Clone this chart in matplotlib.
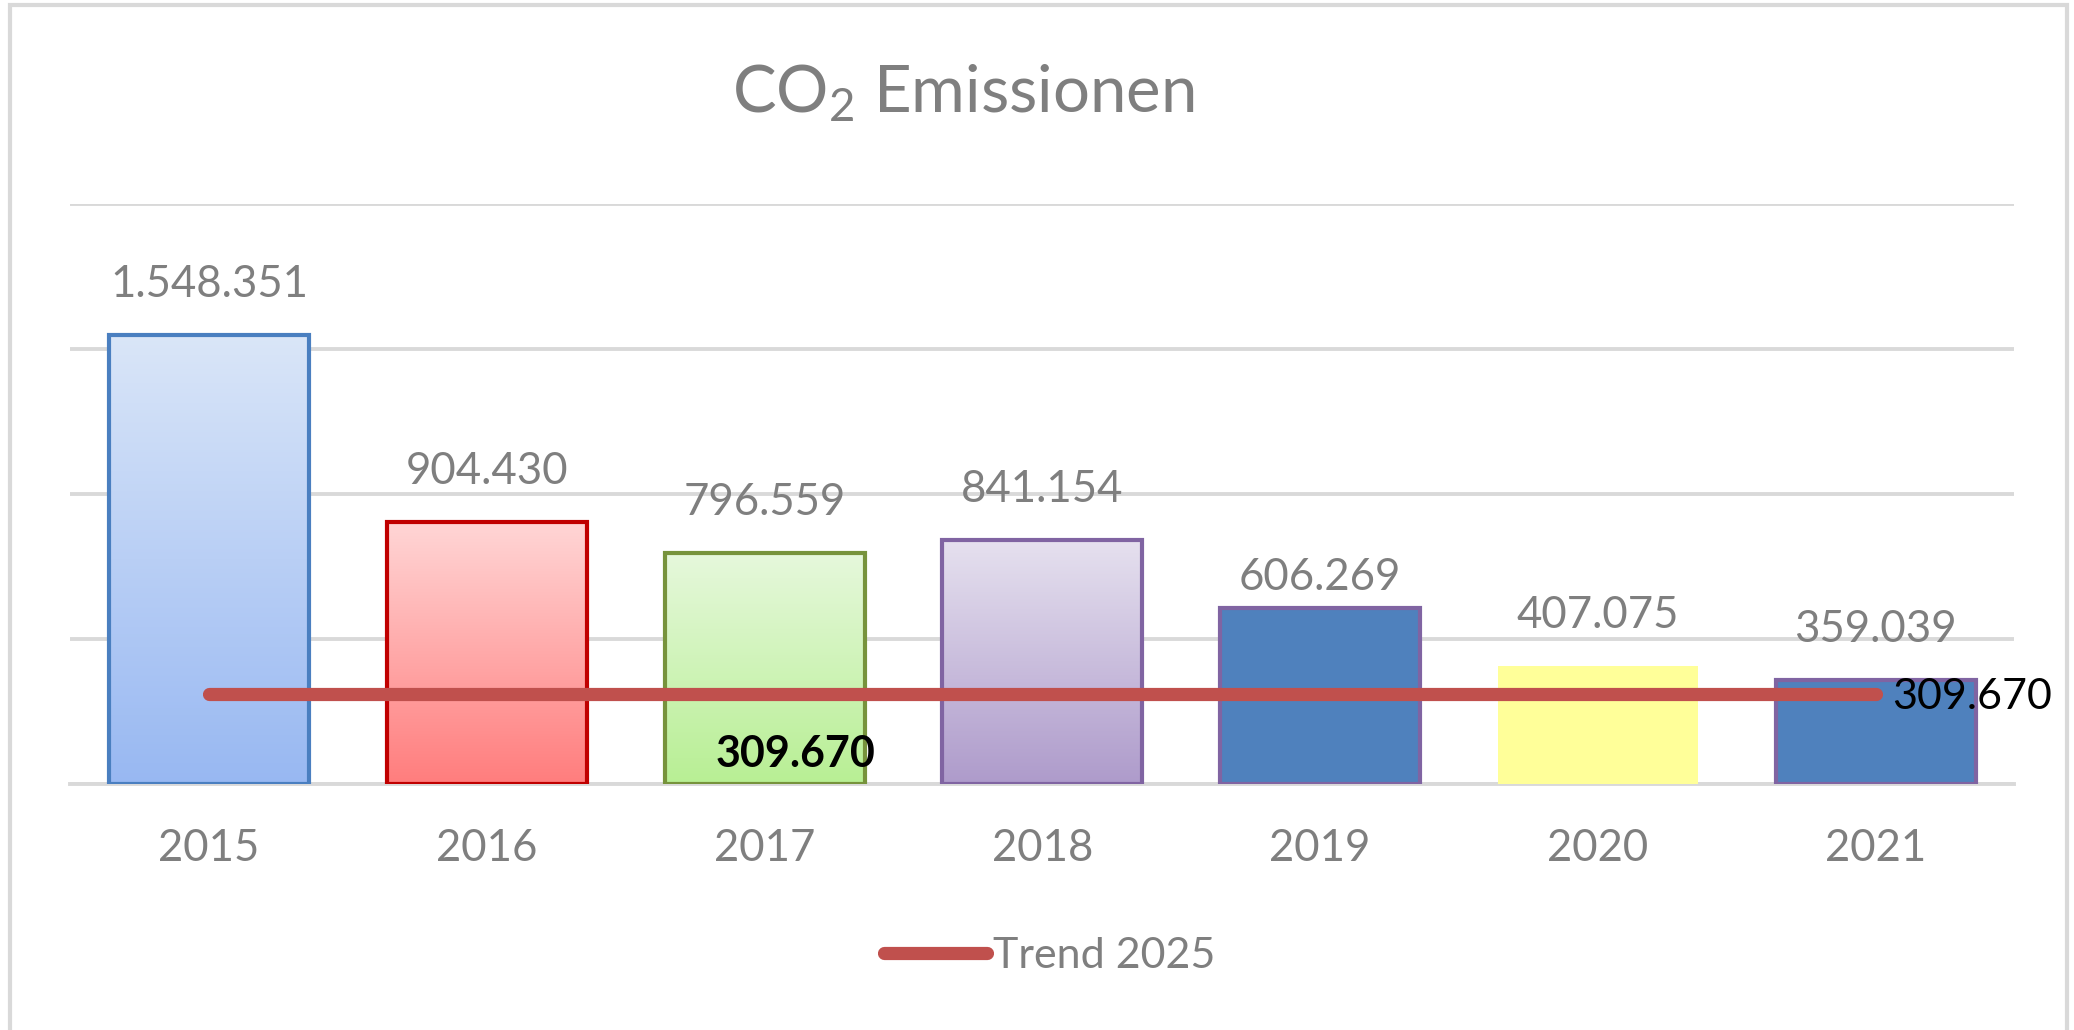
import numpy as np
import matplotlib.pyplot as plt
from matplotlib.colors import LinearSegmentedColormap
from matplotlib.patches import Rectangle

plt.rcParams["font.family"] = ["Lato", "DejaVu Sans"]
plt.rcParams["mathtext.fontset"] = "custom"
plt.rcParams["mathtext.rm"] = "Lato"
plt.rcParams["mathtext.it"] = "Lato"

# data
years = ["2015", "2016", "2017", "2018", "2019", "2020", "2021"]
emissions = [1548351, 904430, 796559, 841154, 606269, 407075, 359039]
emission_labels = ["1.548.351", "904.430", "796.559", "841.154", "606.269", "407.075", "359.039"]
trend = [309670, 309670, 309670, 309670, 309670, 309670, 309670]
trend_label = "309.670"

# styles per bar: (top colour, bottom colour) or a plain colour, plus edge colour
fill_top = ["#dae6f8", "#ffd6d6", "#e6f8dc", "#e6e1ef", None, None, None]
fill_bottom = ["#98b8f2", "#ff7d7d", "#b8ef94", "#ae9bcb", None, None, None]
fill_plain = [None, None, None, None, "#4f81bd", "#ffff99", "#4f81bd"]
edge_colors = ["#4a7fc0", "#c00000", "#77933c", "#8064a2", "#8064a2", "none", "#8064a2"]
label_offsets = [36, 36, 36, 36, 22, 36, 36]

GRAY = "#7f7f7f"
GRID = "#d9d9d9"
TREND = "#c0504d"

fig = plt.figure(figsize=(20.74, 10.30), dpi=100)
ax = fig.add_axes([0.0338, 0.2388, 0.9375, 0.5635])

x = np.arange(len(years))
bars = ax.bar(x, emissions, width=0.72, zorder=3, linewidth=3)

for i, b in enumerate(bars):
    b.set_edgecolor(edge_colors[i])
    if fill_plain[i] is not None:
        b.set_facecolor(fill_plain[i])
    else:
        b.set_facecolor("none")
        cmap = LinearSegmentedColormap.from_list("g%d" % i, [fill_top[i], fill_bottom[i]])
        grad = np.linspace(0, 1, 256).reshape(-1, 1)
        im = ax.imshow(grad, cmap=cmap, aspect="auto", origin="upper",
                       extent=(b.get_x(), b.get_x() + b.get_width(), 0, b.get_height()),
                       zorder=2.5)
        im.set_clip_path(b)

for i, v in enumerate(emissions):
    ax.annotate(emission_labels[i], (x[i], v), xytext=(0, label_offsets[i]),
                textcoords="offset points", ha="center", va="center",
                fontsize=31.5, color=GRAY, zorder=5)

ax.plot(x, trend, color=TREND, linewidth=9.5, solid_capstyle="round",
        zorder=4, label="Trend 2025")

ax.annotate(trend_label, (x[2], trend[2]), xytext=(22, -43), textcoords="offset points",
            ha="center", va="center", fontsize=31, fontweight="bold", color="black", zorder=6)
ax.annotate(trend_label, (x[-1], trend[-1]), xytext=(12, -2), textcoords="offset points",
            ha="left", va="center", fontsize=31, color="black", zorder=6,
            annotation_clip=False)

ax.set_xlim(-0.5, len(years) - 0.5)
ax.set_ylim(0, 2000000)
ax.set_yticks([0, 500000, 1000000, 1500000, 2000000])
ax.yaxis.grid(True, color=GRID, linewidth=2.8, zorder=0)
ax.set_axisbelow(True)
ax.set_yticklabels([])
ax.tick_params(axis="y", length=0)
ax.set_xticks(x)
ax.set_xticklabels(years, fontsize=31.5, color=GRAY)
ax.tick_params(axis="x", length=0, pad=32)
for s in ["top", "right", "left"]:
    ax.spines[s].set_visible(False)
ax.spines["bottom"].set_color(GRID)
ax.spines["bottom"].set_linewidth(2.8)

fig.text(0.4643, 0.910, "CO$_2$ Emissionen", ha="center", va="center",
         fontsize=47, color=GRAY)

leg = ax.legend(loc="center", bbox_to_anchor=(0.506, 0.072), bbox_transform=fig.transFigure,
                frameon=False, fontsize=31, handlelength=2.4, handletextpad=0.12)
for t in leg.get_texts():
    t.set_color(GRAY)

fig.patches.append(Rectangle((10 / 2074, -0.02), 2057 / 2074, 1.02 - 5 / 1030,
                             transform=fig.transFigure, fill=False,
                             edgecolor=GRID, linewidth=3))

fig.savefig("out.png", dpi=100)
